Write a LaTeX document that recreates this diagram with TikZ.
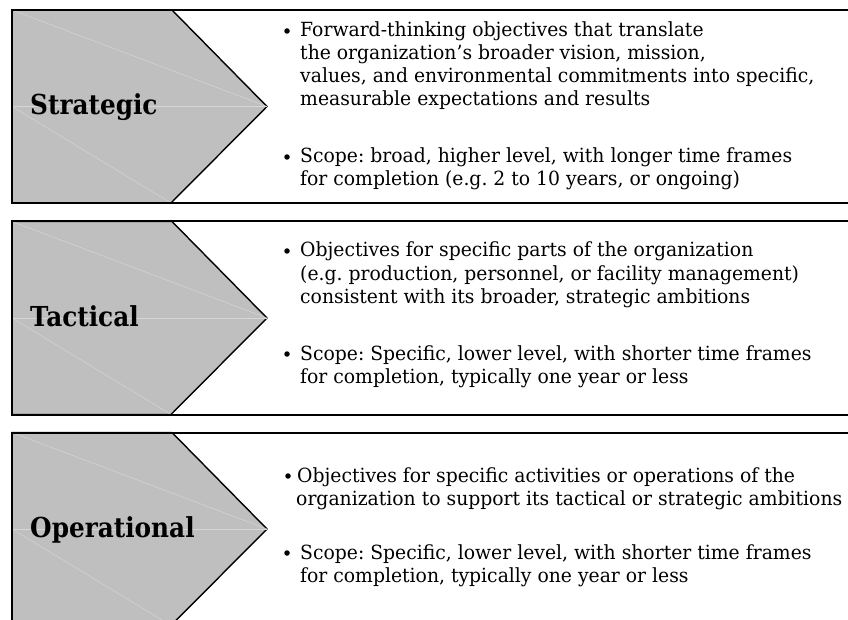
\documentclass[tikz,border=0pt]{standalone}
\usepackage{fontspec}
\setmainfont{DejaVu Serif}[FakeStretch=0.963]
\newfontfamily\labelfont{DejaVu Serif}[FakeStretch=0.9]
\definecolor{chevrongray}{HTML}{BFBFBF}
\definecolor{facetgray}{HTML}{D6D6D6}
\frenchspacing
\begin{document}
\begin{tikzpicture}[x=1pt,y=-1pt,
  chevron/.style={fill=chevrongray, draw=black, line width=1.4pt, line join=miter},
  frameline/.style={line width=2pt},
  facet/.style={draw=facetgray, line width=0.5pt},
  tierlabel/.style={font=\labelfont\fontsize{27.5}{30}\selectfont\bfseries, anchor=base west, inner sep=0},
  bodytext/.style={font=\fontsize{19.5}{23}\selectfont, anchor=base west, inner sep=0},
  dot/.style={circle, fill=black, inner sep=0, minimum size=5.5pt},
]
\useasboundingbox (0,0) rectangle (848,620);

% one tier: chevron, faint facets and the frame lines; #1 = top edge
\newcommand\tierframe[2]{%
  \coordinate (#2-tl) at (12,#1);
  \coordinate (#2-tc) at (172,#1);
  \coordinate (#2-tip) at (267,#1+96.5);
  \coordinate (#2-bc) at (171,#1+193);
  \coordinate (#2-bl) at (12,#1+193);
  \coordinate (#2-ml) at (12,#1+96.5);
  \coordinate (#2-tr) at (848,#1);
  \coordinate (#2-br) at (848,#1+193);
  \path[chevron] (#2-tl) -- (#2-tc) -- (#2-tip) -- (#2-bc) -- (#2-bl) -- cycle;
  \draw[facet] (#2-tl) -- (#2-tip);
  \draw[facet] (#2-ml) -- (#2-tip);
  \draw[facet] (#2-ml) -- (#2-bc);
  \draw[frameline] (#2-tr) -- (#2-tl) -- (#2-bl) -- (#2-br);
}

\tierframe{10}{s}
\tierframe{221.5}{t}
\tierframe{432.5}{o}

% Strategic
\node[tierlabel] (s-label) at (30,115) {Strategic};
\node[dot] (s-b1) at (287,31) {};
\node[bodytext] (s-l1) at (300,37) {Forward-thinking objectives that translate};
\node[bodytext] (s-l2) at (300,60) {the organization’s broader vision, mission,};
\node[bodytext] (s-l3) at (300,83) {values, and environmental commitments into specific,};
\node[bodytext] (s-l4) at (300,106) {measurable expectations and results};
\node[dot] (s-b2) at (287,157) {};
\node[bodytext] (s-l5) at (300,163) {Scope: broad, higher level, with longer time frames};
\node[bodytext] (s-l6) at (300,186) {for completion (e.g. 2 to 10 years, or ongoing)};

% Tactical
\node[tierlabel] (t-label) at (30,326) {Tactical};
\node[dot] (t-b1) at (287,251) {};
\node[bodytext] (t-l1) at (300,257) {Objectives for specific parts of the organization};
\node[bodytext] (t-l2) at (300,280) {(e.g. production, personnel, or facility management)};
\node[bodytext] (t-l3) at (300,303) {consistent with its broader, strategic ambitions};
\node[dot] (t-b2) at (287,354) {};
\node[bodytext] (t-l4) at (300,360) {Scope: Specific, lower level, with shorter time frames};
\node[bodytext] (t-l5) at (300,383) {for completion, typically one year or less};

% Operational
\node[tierlabel] (o-label) at (30,537) {Operational};
\node[dot] (o-b1) at (288,476) {};
\node[bodytext] (o-l1) at (297,482) {Objectives for specific activities or operations of the};
\node[bodytext] (o-l2) at (296,505) {organization to support its tactical or strategic ambitions};
\node[dot] (o-b2) at (287,553) {};
\node[bodytext] (o-l3) at (300,559) {Scope: Specific, lower level, with shorter time frames};
\node[bodytext] (o-l4) at (300,582) {for completion, typically one year or less};
\end{tikzpicture}
\end{document}
